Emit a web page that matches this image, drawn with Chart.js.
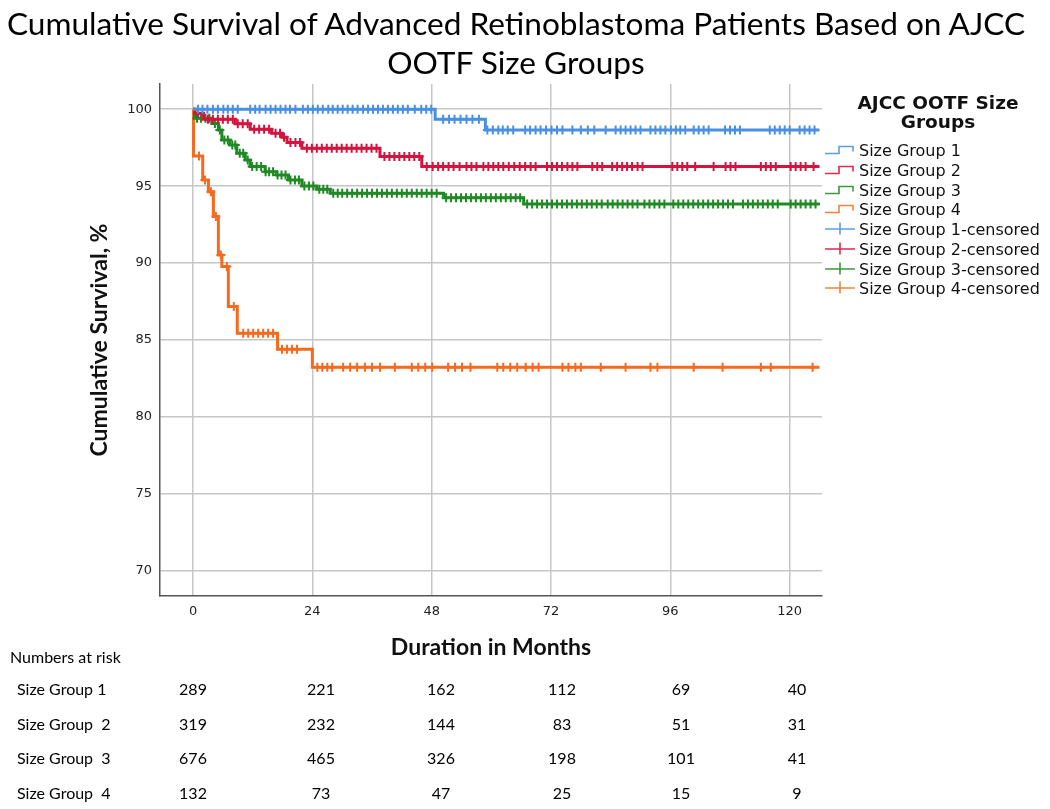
<!DOCTYPE html>
<html>
<head>
<meta charset="utf-8">
<title>Cumulative Survival - AJCC OOTF Size Groups</title>
<script src="https://cdn.jsdelivr.net/npm/chart.js@4.4.1/dist/chart.umd.min.js"></script>
<style>
  body { margin: 0; background: #fff; }
  #wrap { position: relative; width: 1050px; height: 809px; overflow: hidden; }
  #survChart { position: absolute; left: 0; top: 0; }
  .title { position: absolute; left: 0; top: 4px; width: 1032px; text-align: center;
           font-family: Lato, 'Open Sans', sans-serif; font-size: 31.6px; line-height: 39.4px; color: #000; }
  .legend { position: absolute; left: 822px; top: 0; width: 228px; height: 320px;
            font-family: 'DejaVu Sans', sans-serif; color: #111; }
  .legend-title { position: absolute; left: 4px; top: 93px; width: 224px; text-align: center;
                  font-weight: bold; font-size: 18.5px; line-height: 19px; }
  .legend-item { position: absolute; left: 3px; width: 225px; height: 20px; font-size: 16px;
                 line-height: 20px; white-space: nowrap; }
  .legend-item svg { position: absolute; left: 0; top: 0; }
  .legend-item span { position: absolute; left: 34px; top: 0; }
  .risk { position: absolute; font-family: Lato, sans-serif;
          font-size: 16px; line-height: 20px; color: #000; white-space: pre; }
  .risk.num { width: 60px; text-align: center; }
</style>
</head>
<body>
<div id="wrap">
  <canvas id="survChart" width="1050" height="809"></canvas>
  <div class="title">Cumulative Survival of Advanced Retinoblastoma Patients Based on AJCC<br>OOTF Size Groups</div>
  <div class="legend" id="legend">
    <div class="legend-title">AJCC OOTF Size<br>Groups</div>
  </div>
  <div id="riskTable"></div>
</div>
<script>
// ---- data ----
const groupNames = ['Size Group 1', 'Size Group 2', 'Size Group 3', 'Size Group 4'];
const groupColors = ['#4a90e2', '#d4143e', '#1f8a23', '#f56a1f'];
const legendColors = ['#5c9de8', '#dc2a52', '#3a9a3a', '#f5813f'];

const xTickLabels = [0, 24, 48, 72, 96, 120];
const yTickLabels = [70, 75, 80, 85, 90, 95, 100];

// step changes (months) and survival (%) after each step
const blueTimes = [0, 48.7, 58.8, 126];
const blueSurv  = [100, 99.35, 98.65, 98.65];

const redTimes = [0, 0.4, 2.1, 8.5, 11.5, 15.8, 17.9, 18.9, 21.9, 37.6, 46.0, 126];
const redSurv  = [100, 99.74, 99.35, 99.05, 98.7, 98.44, 98.18, 97.83, 97.46, 96.92, 96.27, 96.27];

const greenTimes = [0, 0.3, 3.8, 5.1, 5.8, 7.4, 8.8, 10.5, 11.5, 14.5, 16.8, 19.2, 21.9, 24.9, 27.6, 50.4, 66.5, 126];
const greenSurv  = [100, 99.41, 99.08, 98.65, 98.0, 97.68, 97.14, 96.7, 96.27, 95.94, 95.73, 95.4, 95.01, 94.8, 94.54, 94.24, 93.84, 93.84];

const orangeTimes = [0, 0.1, 1.95, 3.1, 4.1, 5.1, 5.8, 7.1, 8.9, 17.0, 24.0, 126];
const orangeSurv  = [100, 96.96, 95.4, 94.64, 93.02, 90.53, 89.77, 87.17, 85.44, 84.4, 83.23, 83.23];

// censored observations (months)
const blueCensor = [1.0, 1.9, 2.9, 4.0, 5.0, 6.1, 7.0, 8.0, 9.0, 11.5, 12.5, 13.4, 14.6, 15.6, 16.6, 17.6,
  18.6, 19.5, 20.6, 22.1, 23.1, 24.1, 25.1, 26.1, 27.2, 28.1, 29.1, 30.1, 31.1, 32.1, 33.1, 34.2, 35.2,
  36.2, 37.2, 38.2, 39.2, 40.2, 41.2, 42.2, 43.2, 44.6, 45.9, 46.9, 47.9, 50.3, 51.5, 52.6, 53.8, 55.0,
  56.2, 57.5, 59.2, 60.3, 61.4, 62.3, 63.3, 64.4, 66.8, 67.8, 68.9, 69.9, 71.0, 72.1, 73.2, 74.3, 76.3,
  78.0, 79.4, 80.7, 83.0, 85.0, 86.0, 87.0, 88.0, 89.0, 90.0, 92.0, 93.0, 94.0, 95.0, 96.1, 97.1, 98.0,
  99.0, 100.7, 101.7, 102.7, 103.7, 107.0, 108.0, 109.0, 110.0, 116.0, 117.0, 118.0, 119.0, 120.0, 122.0,
  123.0, 124.0, 125.0];
const redCensor = [1.0, 3.0, 4.0, 5.0, 6.0, 7.0, 8.0, 9.0, 10.0, 11.0, 12.3, 13.3, 14.3, 15.3, 16.6, 17.5,
  18.3, 19.6, 20.6, 21.5, 22.9, 23.9, 24.9, 25.9, 26.9, 27.9, 28.9, 29.9, 30.9, 31.9, 32.9, 33.9, 34.9,
  35.9, 36.9, 38.5, 39.5, 40.5, 41.5, 42.5, 43.5, 44.5, 45.5, 47.0, 48.2, 49.3, 50.3, 51.4, 52.4, 53.6,
  55.0, 56.0, 57.0, 58.4, 59.4, 60.4, 61.4, 62.4, 63.5, 64.6, 65.7, 66.8, 67.9, 68.9, 71.2, 72.2, 73.2,
  74.2, 75.3, 76.3, 77.3, 80.3, 81.3, 82.3, 84.3, 85.3, 86.3, 87.3, 88.3, 89.4, 90.4, 96.4, 97.4, 98.4,
  99.4, 101.0, 104.7, 107.1, 108.1, 109.1, 114.2, 115.2, 116.2, 117.2, 120.2, 121.2, 122.2, 123.2, 124.8];
const greenCensor = [0.8, 1.6, 2.5, 3.3, 4.4, 5.4, 6.3, 7.0, 7.9, 8.5, 9.4, 10.1, 11.0, 11.9, 12.8, 13.7,
  14.6, 15.3, 16.1, 17.0, 17.8, 18.6, 19.6, 20.5, 21.3, 22.4, 23.3, 24.2, 25.4, 26.2, 27.0, 28.2, 29.1,
  30.0, 31.0, 32.0, 33.0, 34.0, 35.0, 36.0, 37.0, 38.0, 39.0, 40.0, 41.0, 42.0, 43.0, 44.0, 45.0, 46.0,
  47.0, 48.0, 49.0, 50.9, 51.9, 52.9, 53.9, 54.9, 55.9, 56.9, 57.9, 58.9, 59.9, 60.9, 61.9, 62.9, 63.9,
  64.9, 65.8, 67.2, 68.2, 69.2, 70.2, 71.2, 72.2, 73.2, 74.2, 75.2, 76.2, 77.2, 78.2, 79.2, 80.2, 81.2,
  82.2, 83.4, 84.4, 85.4, 86.4, 87.4, 88.4, 89.4, 90.8, 91.8, 92.8, 93.8, 94.8, 96.6, 97.6, 98.6, 99.6,
  100.6, 101.6, 102.6, 103.6, 104.6, 105.6, 106.6, 107.6, 108.6, 110.6, 111.6, 112.6, 113.6, 114.6,
  115.6, 116.6, 117.6, 120.2, 121.2, 122.2, 123.2, 124.2, 125.2];
const orangeCensor = [1.2, 2.4, 3.6, 4.6, 5.6, 6.8, 8.2, 10.1, 11.1, 12.1, 13.1, 14.1, 15.1, 16.1, 17.9,
  18.9, 19.9, 20.9, 25.0, 26.0, 27.0, 28.0, 30.2, 31.6, 33.0, 34.6, 36.0, 37.6, 40.6, 44.0, 45.3, 46.7,
  48.1, 51.3, 52.7, 54.1, 55.8, 61.2, 62.4, 63.8, 65.2, 66.9, 68.3, 69.5, 74.3, 75.5, 76.9, 78.0, 82.0,
  87.0, 92.0, 93.4, 100.7, 106.5, 114.2, 116.2, 124.6];

// numbers at risk table
const riskLabels = ['Size Group 1', 'Size Group  2', 'Size Group  3', 'Size Group  4'];
const riskGroup1 = [289, 221, 162, 112, 69, 40];
const riskGroup2 = [319, 232, 144, 83, 51, 31];
const riskGroup3 = [676, 465, 326, 198, 101, 41];
const riskGroup4 = [132, 73, 47, 25, 15, 9];

// ---- helpers ----
function stepPoints(times, surv) {
    return times.map((t, i) => ({ x: t, y: surv[i] }));
}

function survAt(times, surv, t) {
    let s = surv[0];
    for (let i = 0; i < times.length; i++) {
        if (times[i] <= t) s = surv[i];
    }
    return s;
}

function censorPoints(times, surv, cens) {
    return cens.map(t => ({ x: t, y: survAt(times, surv, t) }));
}

const curves = [
    [blueTimes, blueSurv, blueCensor],
    [redTimes, redSurv, redCensor],
    [greenTimes, greenSurv, greenCensor],
    [orangeTimes, orangeSurv, orangeCensor]
];

const datasets = [];
curves.forEach((c, i) => {
    datasets.push({
        label: groupNames[i],
        data: stepPoints(c[0], c[1]),
        borderColor: groupColors[i],
        borderWidth: 3,
        stepped: 'before',
        pointRadius: 0,
        fill: false
    });
    datasets.push({
        label: groupNames[i] + '-censored',
        data: censorPoints(c[0], c[1], c[2]),
        showLine: false,
        pointStyle: 'cross',
        pointRadius: 4.5,
        pointHoverRadius: 4.5,
        pointBorderWidth: 2,
        pointBorderColor: groupColors[i],
        borderColor: groupColors[i]
    });
});

const gridStyle = { color: '#c6c6c6', lineWidth: 1.5, drawTicks: false };
const borderStyle = { display: true, color: '#555', width: 1.5 };
const tickFont = { family: 'DejaVu Sans', size: 13 };
const axisTitleFont = { family: 'Lato', size: 23, weight: 'bold' };

const ctx = document.getElementById('survChart').getContext('2d');
new Chart(ctx, {
    type: 'line',
    data: { datasets: datasets },
    options: {
        responsive: false,
        animation: false,
        layout: { padding: { left: 86, top: 84, right: 228, bottom: 148 } },
        plugins: {
            legend: { display: false },
            tooltip: { enabled: false }
        },
        scales: {
            x: {
                type: 'linear',
                min: -6.64,
                max: 126.5,
                afterBuildTicks: s => { s.ticks = xTickLabels.map(v => ({ value: v })); },
                afterFit: s => { s.height = 65; },
                grid: gridStyle,
                border: borderStyle,
                ticks: { font: tickFont, color: '#222', padding: 8, maxRotation: 0, autoSkip: false },
                title: { display: true, text: 'Duration in Months', font: axisTitleFont, color: '#111', padding: { top: 0, bottom: 0 } }
            },
            y: {
                min: 68.36,
                max: 101.64,
                afterBuildTicks: s => { s.ticks = yTickLabels.map(v => ({ value: v })); },
                afterFit: s => { s.width = 74; },
                grid: gridStyle,
                border: borderStyle,
                ticks: { font: tickFont, color: '#222', padding: 8 },
                title: { display: true, text: 'Cumulative Survival, %', font: axisTitleFont, color: '#111', padding: { top: 0, bottom: 0 } }
            }
        }
    }
});

// ---- legend (step icons and censor icons) ----
const legend = document.getElementById('legend');
const legendRows = [];
groupNames.forEach((n, i) => legendRows.push({ text: n, color: legendColors[i], kind: 'step' }));
groupNames.forEach((n, i) => legendRows.push({ text: n + '-censored', color: legendColors[i], kind: 'cens' }));
legendRows.forEach((r, k) => {
    const row = document.createElement('div');
    row.className = 'legend-item';
    row.style.top = (141 + k * 19.75) + 'px';
    const path = r.kind === 'step'
        ? 'M0,12.5 H14 V5.5 H28 V10.5'
        : 'M0,9 H30 M15,2.5 V14.5';
    row.innerHTML = '<svg width="32" height="20"><path d="' + path + '" fill="none" stroke="' + r.color +
        '" stroke-width="1.6"/></svg><span>' + r.text + '</span>';
    legend.appendChild(row);
});

// ---- numbers at risk ----
const table = document.getElementById('riskTable');
const riskX = [193, 321, 441, 562, 681, 797];
const riskRowsY = [679, 714, 748, 783];
const riskRows = [riskGroup1, riskGroup2, riskGroup3, riskGroup4];

function addText(txt, left, top, cls) {
    const d = document.createElement('div');
    d.className = 'risk' + (cls ? ' ' + cls : '');
    d.style.left = left + 'px';
    d.style.top = top + 'px';
    d.textContent = txt;
    table.appendChild(d);
}
addText('Numbers at risk', 10, 647);
riskRows.forEach((vals, r) => {
    addText(riskLabels[r], 17, riskRowsY[r]);
    vals.forEach((v, c) => addText(String(v), riskX[c] - 30, riskRowsY[r], 'num'));
});
</script>
</body>
</html>
